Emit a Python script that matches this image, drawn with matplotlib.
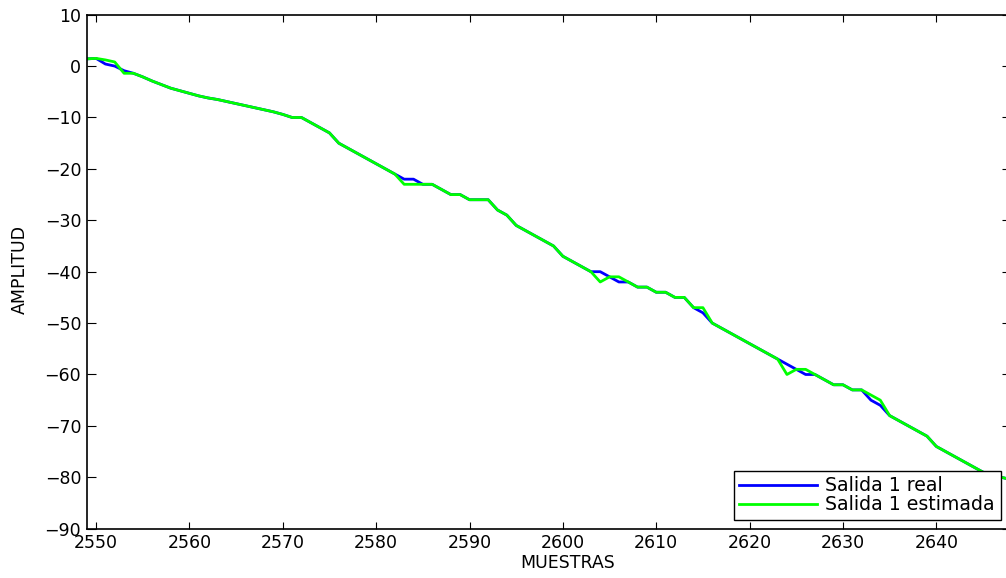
import numpy as np
import matplotlib
matplotlib.use('Agg')
import matplotlib.pyplot as plt

plt.rcParams['font.family'] = ['DejaVu Sans']

# sample index
muestras = np.arange(2549, 2649)

# measured output
salida_real = [
    1.4, 1.5, 0.4, 0.0, -0.9, -1.4, -2.1, -2.9, -3.6, -4.3,
    -4.8, -5.3, -5.8, -6.2, -6.5, -6.9, -7.3, -7.7, -8.1, -8.5,
    -8.9, -9.4, -10, -10, -11, -12, -13, -15, -16, -17,
    -18, -19, -20, -21, -22, -22, -23, -23, -24, -25,
    -25, -26, -26, -26, -28, -29, -31, -32, -33, -34,
    -35, -37, -38, -39, -40, -40, -41, -42, -42, -43,
    -43, -44, -44, -45, -45, -47, -48, -50, -51, -52,
    -53, -54, -55, -56, -57, -58, -59, -60, -60, -61,
    -62, -62, -63, -63, -65, -66, -68, -69, -70, -71,
    -72, -74, -75, -76, -77, -78, -79, -79.5, -80, -80.5,
]

# model estimate
salida_estimada = [
    1.4, 1.5, 1.2, 0.8, -1.4, -1.4, -2.1, -2.9, -3.6, -4.3,
    -4.8, -5.3, -5.8, -6.2, -6.5, -6.9, -7.3, -7.7, -8.1, -8.5,
    -8.9, -9.4, -10, -10, -11, -12, -13, -15, -16, -17,
    -18, -19, -20, -21, -23, -23, -23, -23, -24, -25,
    -25, -26, -26, -26, -28, -29, -31, -32, -33, -34,
    -35, -37, -38, -39, -40, -42, -41, -41, -42, -43,
    -43, -44, -44, -45, -45, -47, -47, -50, -51, -52,
    -53, -54, -55, -56, -57, -60, -59, -59, -60, -61,
    -62, -62, -63, -63, -64, -65, -68, -69, -70, -71,
    -72, -74, -75, -76, -77, -78, -79, -79.5, -80, -80.5,
]

x_ticks = np.arange(2550, 2641, 10)
y_ticks = np.arange(-90, 11, 10)

fig = plt.figure(figsize=(10.06, 5.78), dpi=100)
ax = fig.add_axes([0.0862, 0.0853, 0.9188, 0.8893])

ax.plot(muestras, salida_real, color='#0000ff', lw=2.0, label='Salida 1 real')
ax.plot(muestras, salida_estimada, color='#00ff00', lw=2.0, label='Salida 1 estimada')

ax.set_xlim(2549, 2648)
ax.set_ylim(-90, 10)
ax.set_xticks(x_ticks)
ax.set_yticks(y_ticks)

ax.tick_params(direction='in', top=True, right=True, labelsize=12.5, width=0.8)
ax.tick_params(axis='x', length=5, pad=4)
ax.tick_params(axis='y', length=6.5, pad=4)
for sp in ax.spines.values():
    sp.set_linewidth(1.2)

ax.set_xlabel('MUESTRAS', fontsize=12.5)
ax.set_ylabel('AMPLITUD', fontsize=12.5)
ax.xaxis.set_label_coords(0.52, -0.05)
ax.yaxis.set_label_coords(-0.063, 0.505)

leg = ax.legend(loc='lower right', bbox_to_anchor=(1000.7 / 1006, 58 / 578),
                bbox_transform=fig.transFigure, fontsize=13.6, fancybox=False,
                framealpha=1, edgecolor='black', borderaxespad=0,
                handlelength=4.1, handletextpad=0.45, labelspacing=0.0,
                borderpad=0.3)
leg.get_frame().set_linewidth(1.0)

fig.savefig('out.png', dpi=100)
